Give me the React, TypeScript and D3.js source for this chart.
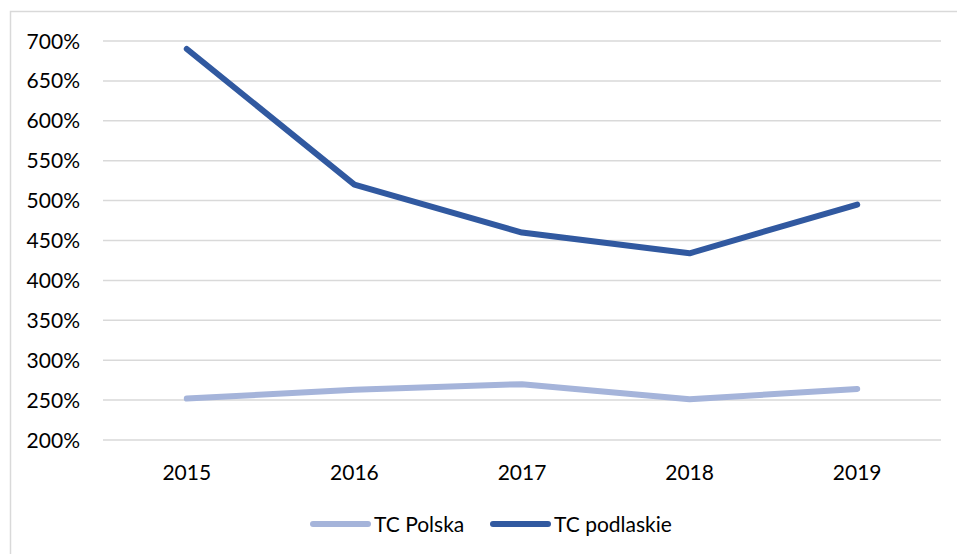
import React from "react";
import * as d3 from "d3";

const years = ["2015", "2016", "2017", "2018", "2019"];
const tcPolska = [252, 263, 270, 251, 264];
const tcPodlaskie = [690, 520, 460, 434, 495];
const yTicks = [200, 250, 300, 350, 400, 450, 500, 550, 600, 650, 700];
const seriesNames = ["TC Polska", "TC podlaskie"];
const seriesColors = ["#a5b4da", "#3159a0"];

const W = 957;
const H = 554;
const FONT = "Lato, 'Open Sans', sans-serif";

export default function App() {
  const x = d3.scaleBand<string>().domain(years).range([103, 941]);
  const y = d3.scaleLinear().domain([200, 700]).range([440, 41]);
  const line = d3
    .line<number>()
    .x((_, i) => (x(years[i]) as number) + x.bandwidth() / 2)
    .y((d) => y(d));
  const series = [tcPolska, tcPodlaskie];
  const legendX = [313, 493];

  return (
    <svg
      width={W}
      height={H}
      style={{ position: "absolute", left: 0, top: 0, background: "#fff" }}
      fontFamily={FONT}
    >
      <rect x={10.5} y={11.5} width={W} height={H} fill="#fff" stroke="#d9d9d9" strokeWidth={1.5} />
      {yTicks.map((t) => (
        <g key={t}>
          <line x1={103} x2={941} y1={y(t)} y2={y(t)} stroke="#d9d9d9" strokeWidth={1.5} />
          <text x={80} y={y(t)} dy="0.36em" textAnchor="end" fontSize={21} fill="#000">
            {t}%
          </text>
        </g>
      ))}
      {years.map((yr) => (
        <text
          key={yr}
          x={(x(yr) as number) + x.bandwidth() / 2}
          y={472}
          dy="0.36em"
          textAnchor="middle"
          fontSize={21}
          fill="#000"
        >
          {yr}
        </text>
      ))}
      {series.map((s, i) => (
        <path
          key={i}
          d={line(s) || ""}
          fill="none"
          stroke={seriesColors[i]}
          strokeWidth={6}
          strokeLinecap="round"
          strokeLinejoin="round"
        />
      ))}
      {seriesNames.map((n, i) => (
        <g key={n}>
          <line
            x1={legendX[i]}
            x2={legendX[i] + 55}
            y1={524}
            y2={524}
            stroke={seriesColors[i]}
            strokeWidth={6}
            strokeLinecap="round"
          />
          <text x={legendX[i] + 61} y={524} dy="0.36em" fontSize={21} fill="#000">
            {n}
          </text>
        </g>
      ))}
    </svg>
  );
}
